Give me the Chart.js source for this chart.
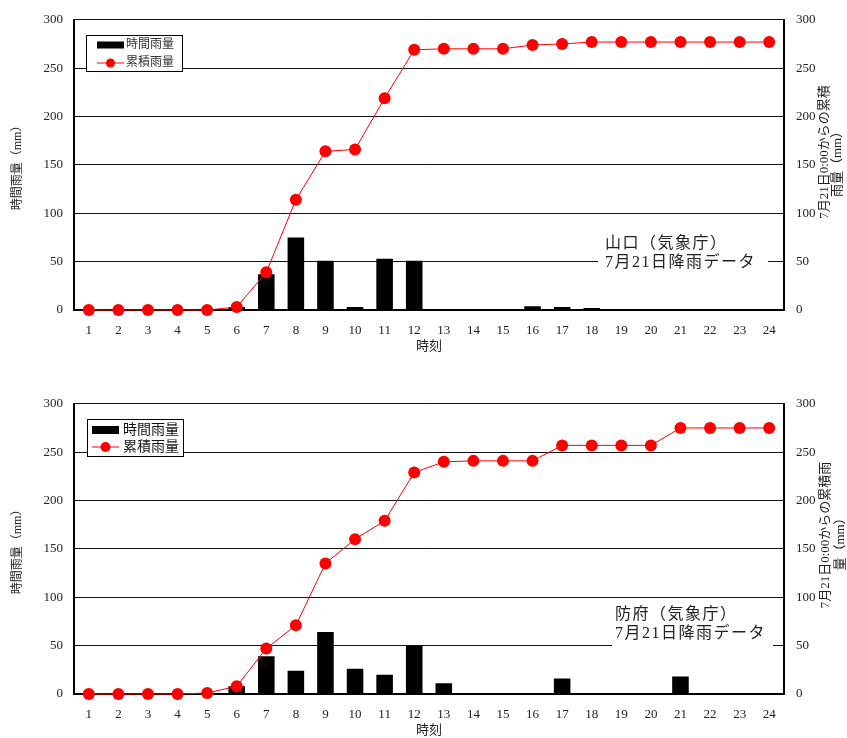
<!DOCTYPE html>
<html><head><meta charset="utf-8">
<script src="https://cdn.jsdelivr.net/npm/chart.js@4/dist/chart.umd.min.js"></script>
<style>
html,body{margin:0;padding:0;background:#fff;width:847px;height:738px;overflow:hidden}
canvas{position:absolute;left:0}
#c1{top:0}
#c2{top:384px}
</style></head><body>
<canvas id="c1" width="847" height="360"></canvas>
<canvas id="c2" width="847" height="354"></canvas>
<script>
// ---- data ----
const hours = ['1','2','3','4','5','6','7','8','9','10','11','12','13','14','15','16','17','18','19','20','21','22','23','24'];
const yamaguchiHourly = [0,0,0,0,0,3,37,75,51,3,53,51,1,0,0,4,3,2,0,0,0,0,0,0];
const yamaguchiCumul  = [0,0,0,0,0,3,39,114,164,166,219,269,270,270,270,274,275,277,277,277,277,277,277,277];
const hofuHourly = [0,0,0,0,1,8,39,24,64,26,20,50,11,1,0,0,16,1,0,0,18,0,0,0];
const hofuCumul  = [0,0,0,0,1,8,47,71,135,160,179,229,240,241,241,241,257,257,257,257,275,275,275,275];
const yMin = 0, yMax = 300, yStep = 50;
const seriesNames = ['時間雨量', '累積雨量'];
const xTitle = '時刻';
const yLeftTitle = '時間雨量（mm）';
const topRightTitle = ['7月21日0:00からの累積', '雨量（mm）'];
const bottomRightTitle = ['7月21日0:00からの累積雨', '量（mm）'];
const topNote = ['山口（気象庁）', '7月21日降雨データ'];
const bottomNote = ['防府（気象庁）', '7月21日降雨データ'];

const FONT = "'Liberation Serif','Noto Sans CJK JP',serif";

function makeChart(canvasId, hourly, cumul, cfg) {
  const H = document.getElementById(canvasId).height;
  const overlay = {
    id: 'overlay' + canvasId,
    beforeDatasetsDraw(chart) {
      const ctx = chart.ctx;
      const n = cfg.note;
      ctx.save();
      ctx.fillStyle = '#fff';
      ctx.fillRect(n.box[0], n.box[1], n.box[2], n.box[3]);
      ctx.fillStyle = '#222';
      ctx.font = n.size + 'px ' + FONT;
      try { ctx.letterSpacing = n.ls + 'px'; } catch (e) {}
      ctx.textAlign = 'left';
      ctx.textBaseline = 'middle';
      ctx.fillText(n.lines[0], n.x, n.y1);
      ctx.fillText(n.lines[1], n.x, n.y2);
      ctx.restore();
    },
    afterDraw(chart) {
      const ctx = chart.ctx;
      // right title (reads bottom to top)
      ctx.save();
      ctx.fillStyle = '#222';
      ctx.font = '13px ' + FONT;
      ctx.textAlign = 'center';
      ctx.textBaseline = 'middle';
      cfg.rt.forEach((t, i) => {
        ctx.save();
        ctx.translate(cfg.rtPos[i][0], cfg.rtPos[i][1]);
        ctx.rotate(-Math.PI / 2);
        ctx.fillText(t, 0, 0);
        ctx.restore();
      });
      ctx.restore();
      // legend
      const L = cfg.legend;
      const ds = chart.data.datasets;
      ctx.save();
      ctx.fillStyle = '#fff';
      ctx.fillRect(L.x, L.y, L.w, L.h);
      ctx.strokeStyle = '#000';
      ctx.lineWidth = 1;
      ctx.strokeRect(L.x + 0.5, L.y + 0.5, L.w, L.h);
      ctx.fillStyle = ds[0].backgroundColor;
      ctx.fillRect(L.x + L.sx, L.y + L.r1 - L.sh / 2, L.sw, L.sh);
      ctx.strokeStyle = ds[1].borderColor;
      ctx.beginPath();
      ctx.moveTo(L.x + L.sx, L.y + L.r2);
      ctx.lineTo(L.x + L.sx + L.sw, L.y + L.r2);
      ctx.stroke();
      ctx.fillStyle = ds[1].pointBackgroundColor;
      ctx.beginPath();
      ctx.arc(L.x + L.sx + L.sw / 2, L.y + L.r2, L.pr, 0, Math.PI * 2);
      ctx.fill();
      ctx.fillStyle = L.color;
      ctx.font = L.size + 'px ' + FONT;
      ctx.textAlign = 'left';
      ctx.textBaseline = 'middle';
      ctx.fillText(ds[0].label, L.x + L.tx, L.y + L.r1);
      ctx.fillText(ds[1].label, L.x + L.tx, L.y + L.r2);
      ctx.restore();
    }
  };
  return new Chart(document.getElementById(canvasId), {
    data: {
      labels: hours,
      datasets: [
        { type: 'bar', label: seriesNames[0], data: hourly, yAxisID: 'y',
          backgroundColor: '#000', borderWidth: 0, barPercentage: 0.56, categoryPercentage: 1.0, order: 2 },
        { type: 'line', label: seriesNames[1], data: cumul, yAxisID: 'y1',
          borderColor: '#ff0000', borderWidth: 1, pointRadius: 6, pointBackgroundColor: '#ff0000',
          pointBorderWidth: 0, tension: 0, clip: false, order: 1 }
      ]
    },
    options: {
      responsive: false, animation: false,
      layout: { padding: { top: 16, left: 0, right: 0, bottom: 0 } },
      plugins: { legend: { display: false }, tooltip: { enabled: false } },
      scales: {
        x: {
          grid: { display: false },
          border: { display: true, color: '#000', width: 2 },
          ticks: { color: '#222', font: { family: FONT, size: 13 }, padding: 5, maxRotation: 0, autoSkip: false },
          title: { display: true, text: xTitle, color: '#222', font: { family: FONT, size: 13 }, padding: { top: 0, bottom: cfg.xtPad } },
          afterFit(s) { s.height = H - 310; }
        },
        y: {
          position: 'left', min: yMin, max: yMax,
          ticks: { stepSize: yStep, color: '#222', font: { family: FONT, size: 13 }, padding: 11 },
          grid: { color: '#111', lineWidth: 1, drawTicks: false },
          border: { display: true, color: '#000', width: 2 },
          title: { display: true, text: yLeftTitle, color: '#222', font: { family: FONT, size: 12 }, padding: { top: 11, bottom: 0 } },
          afterFit(s) { s.width = 74; }
        },
        y1: {
          position: 'right', min: yMin, max: yMax,
          ticks: { stepSize: yStep, color: '#222', font: { family: FONT, size: 13 }, padding: 12 },
          grid: { display: false, drawTicks: false },
          border: { display: true, color: '#000', width: 2 },
          afterFit(s) { s.width = 63; }
        }
      }
    },
    plugins: [overlay]
  });
}

makeChart('c1', yamaguchiHourly, yamaguchiCumul, {
  xtPad: 6,
  rt: topRightTitle, rtPos: [[825, 152], [838, 161]],
  note: { lines: topNote, size: 16, ls: 1.5, box: [598, 232, 170, 40], x: 605, y1: 244, y2: 263 },
  legend: { x: 86, y: 35, w: 96, h: 36, sx: 11, sw: 27, sh: 7, r1: 10, r2: 28, pr: 4.5, tx: 40, size: 12, color: '#333' }
});
makeChart('c2', hofuHourly, hofuCumul, {
  xtPad: 0,
  rt: bottomRightTitle, rtPos: [[826, 151], [841, 157]],
  note: { lines: bottomNote, size: 16, ls: 1.5, box: [612, 216, 161, 46], x: 615, y1: 231, y2: 250 },
  legend: { x: 87, y: 35, w: 96, h: 37, sx: 5, sw: 27, sh: 8, r1: 11, r2: 28, pr: 5, tx: 36, size: 14, color: '#111' }
});
</script>
</body></html>
